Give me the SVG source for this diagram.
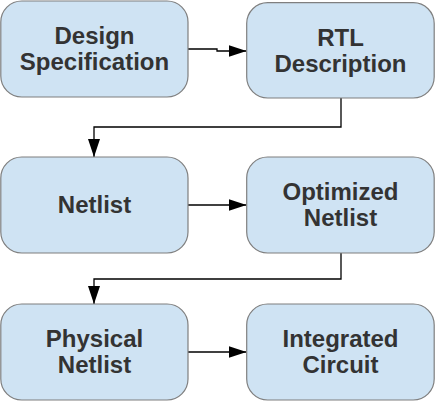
<svg xmlns="http://www.w3.org/2000/svg" width="435" height="402" viewBox="0 0 435 402">
<defs>
<style>
.box{fill:#cfe3f3;stroke:#7f7f7f;stroke-width:1.2}
.t{font-family:"Liberation Sans",Arial,sans-serif;font-weight:bold;font-size:24px;fill:#333333;text-anchor:middle}
.c{fill:none;stroke:#000;stroke-width:1.3}
</style>
<marker id="ah" viewBox="0 0 18 12" refX="18" refY="6" markerWidth="18" markerHeight="12" markerUnits="userSpaceOnUse" orient="auto">
<path d="M0,0 L18,6 L0,12 Z" fill="#000"/>
</marker>
</defs>
<rect width="435" height="402" fill="#fff"/>
<g id="connectors">
<path class="c" d="M188,49 H217 V51 H246.5" marker-end="url(#ah)"/>
<path class="c" d="M341,98 V127 H94 V157" marker-end="url(#ah)"/>
<path class="c" d="M188,205 H246.5" marker-end="url(#ah)"/>
<path class="c" d="M341,253 V279 H94 V304" marker-end="url(#ah)"/>
<path class="c" d="M188,352 H246.5" marker-end="url(#ah)"/>
</g>
<g id="design-spec">
<rect class="box" x="0.8" y="1" width="187.2" height="96" rx="21" ry="21"/>
<text class="t" x="94.5" y="44">Design</text>
<text class="t" x="94.5" y="70">Specification</text>
</g>
<g id="rtl">
<rect class="box" x="246.7" y="2.6" width="187.5" height="95.4" rx="21" ry="21"/>
<text class="t" x="340.5" y="45.5">RTL</text>
<text class="t" x="340.5" y="71.5">Description</text>
</g>
<g id="netlist">
<rect class="box" x="0.8" y="157" width="187.2" height="96" rx="21" ry="21"/>
<text class="t" x="94.5" y="213">Netlist</text>
</g>
<g id="optimized">
<rect class="box" x="246.7" y="157" width="187.5" height="96" rx="21" ry="21"/>
<text class="t" x="340.5" y="200">Optimized</text>
<text class="t" x="340.5" y="225.5">Netlist</text>
</g>
<g id="physical">
<rect class="box" x="0.8" y="304" width="187.2" height="96" rx="21" ry="21"/>
<text class="t" x="94.5" y="347">Physical</text>
<text class="t" x="94.5" y="373">Netlist</text>
</g>
<g id="integrated">
<rect class="box" x="246.7" y="304" width="187.5" height="96" rx="21" ry="21"/>
<text class="t" x="340.5" y="347">Integrated</text>
<text class="t" x="340.5" y="373">Circuit</text>
</g>
</svg>
